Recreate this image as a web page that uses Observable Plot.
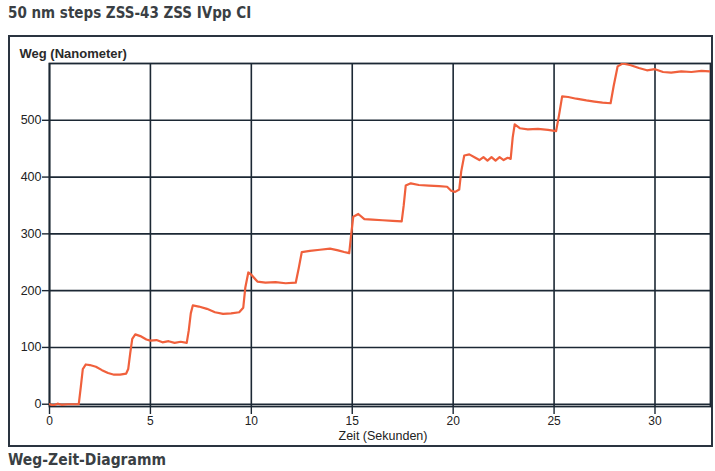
<!DOCTYPE html>
<html>
<head>
<meta charset="utf-8">
<script src="https://cdn.jsdelivr.net/npm/d3@7"></script>
<script src="https://cdn.jsdelivr.net/npm/@observablehq/plot@0.6"></script>
<style>
  html, body { margin: 0; padding: 0; background: #fff; }
  #wrap { position: relative; width: 715px; height: 471px; overflow: hidden; }
  #title { position: absolute; left: 8px; top: 4px; font-family: "DejaVu Sans Condensed", "DejaVu Sans", sans-serif; font-size: 15px; font-weight: 600; color: #3a3f44; white-space: nowrap; }
  #box { position: absolute; left: 8px; top: 35px; width: 701px; height: 408px; border: 2px solid #2a3440; box-sizing: content-box; }
  #chart { position: absolute; left: 0; top: 35px; }
  #caption { position: absolute; left: 8px; top: 451px; font-family: "DejaVu Sans Condensed", "DejaVu Sans", sans-serif; font-size: 15.5px; font-weight: 600; color: #3a3f44; white-space: nowrap; }
</style>
</head>
<body>
<div id="wrap">
  <div id="title"></div>
  <div id="box"></div>
  <div id="chart"></div>
  <div id="caption"></div>
</div>
<script>
const titleText = "50 nm steps ZSS-43 ZSS IVpp CI";
const captionText = "Weg-Zeit-Diagramm";
const yLabel = "Weg (Nanometer)";
const xLabel = "Zeit (Sekunden)";
const xTicks = [0, 5, 10, 15, 20, 25, 30];
const yTicks = [0, 100, 200, 300, 400, 500];

// Zeit (s)
const zeit = [
  0, 0.2, 0.4, 0.6, 0.9, 1.2, 1.45,
  1.55, 1.65, 1.8, 2.0, 2.3, 2.6, 2.9, 3.2, 3.5, 3.8, 3.9,
  4.0, 4.1, 4.25, 4.5, 4.8, 5.0, 5.3, 5.6, 5.9, 6.2, 6.5, 6.8,
  6.9, 7.0, 7.1, 7.4, 7.8, 8.2, 8.6, 9.0, 9.4, 9.6,
  9.7, 9.85, 10.0, 10.3, 10.7, 11.2, 11.7, 12.2,
  12.35, 12.5, 12.9, 13.4, 13.9, 14.3, 14.6, 14.85,
  14.95, 15.05, 15.3, 15.6, 16.0, 16.5, 17.0, 17.45,
  17.55, 17.65, 17.9, 18.3, 18.8, 19.3, 19.7, 19.9, 20.1, 20.3,
  20.4, 20.55, 20.8, 21.1, 21.3, 21.5, 21.7, 21.9, 22.1, 22.3, 22.5, 22.7, 22.85,
  22.95, 23.05, 23.3, 23.7, 24.2, 24.7, 25.1,
  25.25, 25.4, 25.7, 26.1, 26.6, 27.0, 27.4, 27.8,
  27.95, 28.15, 28.4, 28.8, 29.2, 29.6, 30.0, 30.4, 30.8, 31.3, 31.8, 32.3, 32.7
];
// Weg (nm)
const weg = [
  0, -2, 1, -1, 0, 0, 0,
  30, 62, 70, 69, 66, 60, 55, 52, 52, 54, 62,
  90, 115, 123, 120, 114, 112, 113, 109, 111, 108, 110, 108,
  130, 160, 174, 172, 168, 162, 159, 160, 162, 170,
  205, 232, 228, 216, 214, 215, 213, 214,
  240, 268, 270, 272, 274, 271, 268, 266,
  300, 330, 335, 326, 325, 324, 323, 322,
  350, 385, 389, 386, 385, 384, 383, 376, 374, 378,
  410, 438, 440, 434, 430, 435, 429, 435, 429, 435, 430, 434, 432,
  470, 493, 486, 484, 485, 483, 481,
  510, 542, 541, 538, 535, 533, 531, 530,
  560, 595, 600, 597, 592, 588, 590, 585, 584, 586, 585, 587, 586
];

const data = zeit.map((t, i) => ({t, w: weg[i]}));

document.getElementById("title").textContent = titleText;
document.getElementById("caption").textContent = captionText;

const gridColor = "#1c2834";
const chart = Plot.plot({
  width: 715,
  height: 412,
  marginLeft: 49,
  marginRight: 5,
  marginTop: 28,
  marginBottom: 41,
  style: {fontFamily: "'Liberation Sans', Arial, sans-serif", fontSize: "12px", color: "#222", background: "transparent"},
  x: {domain: [0, 32.75], ticks: xTicks, label: null},
  y: {domain: [-4, 600], ticks: yTicks, label: null},
  marks: [
    Plot.gridX(xTicks, {stroke: gridColor, strokeOpacity: 1, strokeWidth: 1.6}),
    Plot.gridY(yTicks, {stroke: gridColor, strokeOpacity: 1, strokeWidth: 1.6}),
    Plot.frame({stroke: gridColor, strokeWidth: 1.8}),
    Plot.axisX(xTicks, {tickSize: 8, tickPadding: 2, stroke: gridColor, strokeWidth: 1.4, label: null}),
    Plot.axisY(yTicks, {tickSize: 7, tickPadding: 1, stroke: gridColor, strokeWidth: 1.4, label: null, fontSize: 12.5}),
    Plot.line(data, {x: "t", y: "w", stroke: "#f0603c", strokeWidth: 2.2, clip: true}),
    Plot.text([yLabel], {frameAnchor: "top-left", dx: -30, dy: -15, textAnchor: "start", fontSize: 13, fontWeight: "bold", fill: "#2a2a2a"}),
    Plot.text([xLabel], {frameAnchor: "bottom", dx: 3, dy: 33, fontSize: 12.5, fill: "#222"})
  ]
});
document.getElementById("chart").appendChild(chart);
</script>
</body>
</html>
